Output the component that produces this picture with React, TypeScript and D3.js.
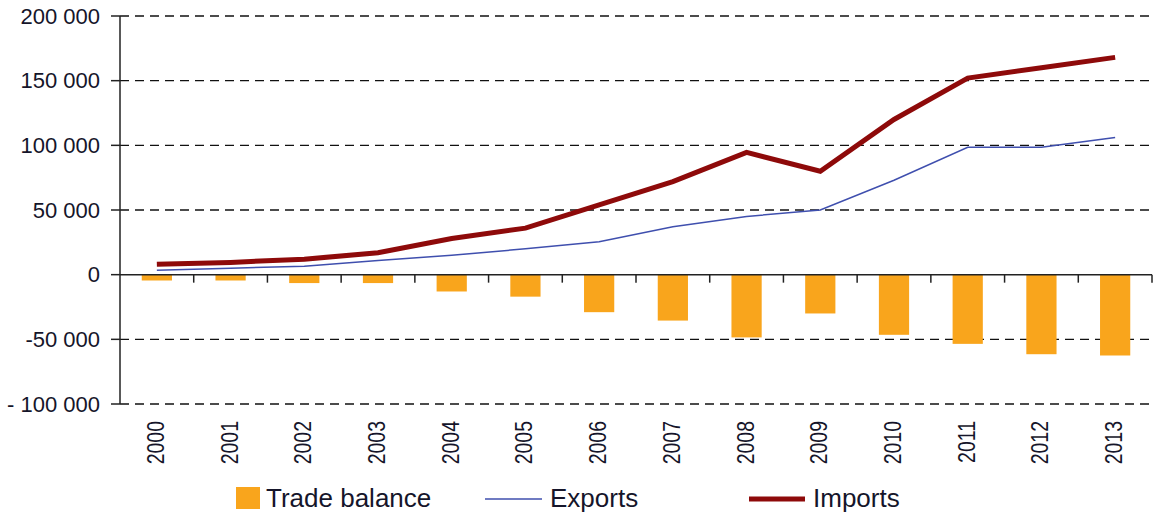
import React from 'react'
import { scaleBand, scaleLinear, line } from 'd3'

const years = ['2000', '2001', '2002', '2003', '2004', '2005', '2006', '2007', '2008', '2009', '2010', '2011', '2012', '2013']
const tradeBalance = [-4500, -4500, -6500, -6500, -13000, -17000, -29000, -35500, -48500, -30000, -46500, -53500, -61500, -62500]
const exportsData = [3500, 5000, 6500, 11000, 15000, 20000, 25500, 37000, 45000, 50000, 73000, 98500, 98500, 106000]
const importsData = [8000, 9500, 12000, 17000, 28000, 36000, 54000, 72000, 94500, 80000, 120000, 152000, 160000, 168000]
const yTicks = [200000, 150000, 100000, 50000, 0, -50000, -100000]
const yTickLabels = ['200 000', '150 000', '100 000', '50 000', '0', '-50 000', '- 100 000']

const W = 1156
const H = 513
const left = 120
const right = 1152
const top = 16
const bottom = 404

const ORANGE = '#F9A51C'
const BLUE = '#3F4FAE'
const RED = '#8E0A0A'
const TEXT = '#15152a'
const FONT = 'Arial, "Liberation Sans", sans-serif'

export default function App() {
	const x = scaleBand<string>().domain(years).range([left, right]).padding(0)
	const xBar = scaleBand<string>().domain(years).range([left, right]).paddingInner(0.59).paddingOuter(0.295)
	const y = scaleLinear().domain([-100000, 200000]).range([bottom, top])
	const step = x.step()
	const cx = (yr: string) => (x(yr) as number) + step / 2

	const lineGen = line<number>()
		.x((d, i) => cx(years[i]))
		.y((d) => y(d))

	return (
		<svg width={W} height={H} style={{ position: 'absolute', left: 0, top: 0, background: '#fff' }}>
			{/* grid */}
			{yTicks
				.filter((t) => t !== 0)
				.map((t) => (
					<line key={t} x1={left} x2={right} y1={y(t)} y2={y(t)} stroke="#111" strokeWidth={1.3} strokeDasharray="9,6" />
				))}

			{/* bars */}
			{years.map((yr, i) => (
				<rect
					key={yr}
					x={xBar(yr)}
					width={xBar.bandwidth()}
					y={y(0)}
					height={y(tradeBalance[i]) - y(0)}
					fill={ORANGE}
				/>
			))}

			{/* lines */}
			<path d={lineGen(exportsData) || ''} fill="none" stroke={BLUE} strokeWidth={1.5} />
			<path d={lineGen(importsData) || ''} fill="none" stroke={RED} strokeWidth={5} strokeLinejoin="miter" />

			{/* y axis */}
			<line x1={left} x2={left} y1={top} y2={bottom} stroke="#222" strokeWidth={1.5} />
			{yTicks.map((t, i) => (
				<g key={t}>
					<line x1={left - 9} x2={left} y1={y(t)} y2={y(t)} stroke="#222" strokeWidth={1.5} />
					<text
						x={100}
						y={y(t)}
						dy="0.35em"
						textAnchor="end"
						fontFamily={FONT}
						fontSize={22}
						fill={TEXT}
					>
						{yTickLabels[i]}
					</text>
				</g>
			))}

			{/* x axis at zero */}
			<line x1={left} x2={right} y1={y(0)} y2={y(0)} stroke="#222" strokeWidth={1.5} />
			{years.map((yr) => (
				<line
					key={'t' + yr}
					x1={(x(yr) as number) + step}
					x2={(x(yr) as number) + step}
					y1={y(0)}
					y2={y(0) + 8}
					stroke="#222"
					strokeWidth={1.5}
				/>
			))}
			{years.map((yr) => (
				<text
					key={'l' + yr}
					transform={`translate(${cx(yr) + 7},421) scale(1.2,1) rotate(-90)`}
					textAnchor="end"
					fontFamily={FONT}
					fontSize={19.5}
					fill={TEXT}
				>
					{yr}
				</text>
			))}

			{/* legend */}
			<rect x={236} y={487} width={24} height={22} fill={ORANGE} />
			<text x={266} y={507} fontFamily={FONT} fontSize={26} fill={TEXT}>
				Trade balance
			</text>
			<line x1={485} x2={542} y1={499} y2={499} stroke={BLUE} strokeWidth={1.5} />
			<text x={550} y={507} fontFamily={FONT} fontSize={26} fill={TEXT}>
				Exports
			</text>
			<line x1={749} x2={805} y1={499} y2={499} stroke={RED} strokeWidth={5} />
			<text x={813} y={507} fontFamily={FONT} fontSize={26} fill={TEXT}>
				Imports
			</text>
		</svg>
	)
}
